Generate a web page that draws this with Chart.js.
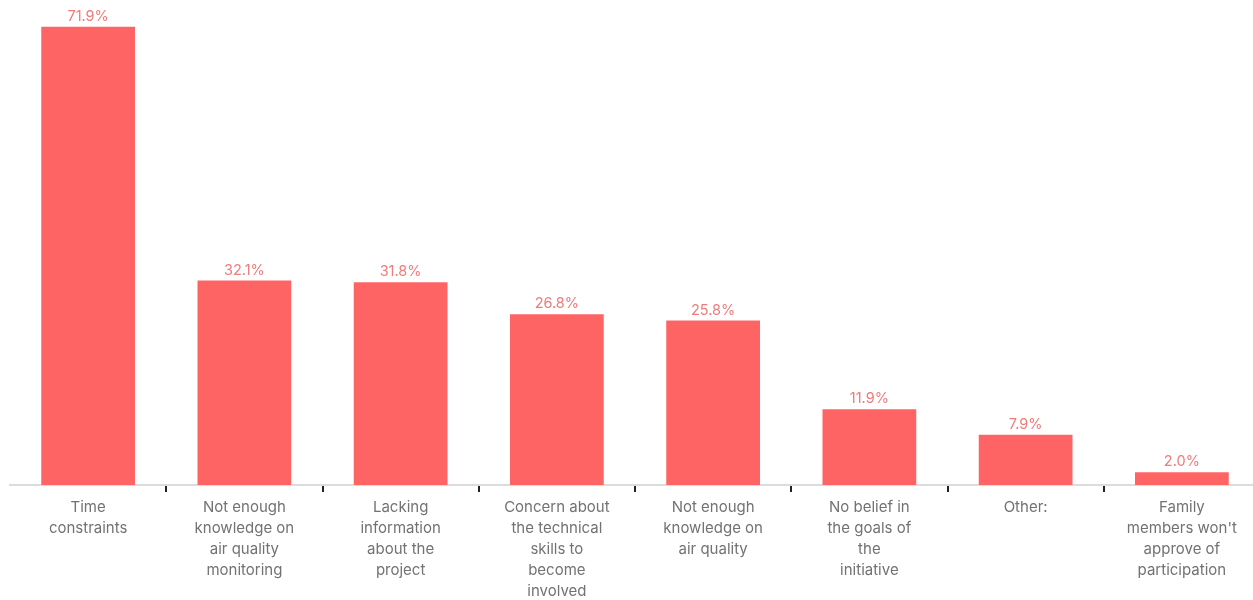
<!DOCTYPE html>
<html>
<head>
<meta charset="utf-8">
<script src="https://cdn.jsdelivr.net/npm/chart.js@4/dist/chart.umd.min.js"></script>
<style>
html,body{margin:0;padding:0;background:#fff;overflow:hidden;}
#wrap{width:1260px;height:600px;position:relative;}
</style>
</head>
<body>
<div id="wrap"><canvas id="c"></canvas></div>
<script>
const categories = [
  ["Time","constraints"],
  ["Not enough","knowledge on","air quality","monitoring"],
  ["Lacking","information","about the","project"],
  ["Concern about","the technical","skills to","become","involved"],
  ["Not enough","knowledge on","air quality"],
  ["No belief in","the goals of","the","initiative"],
  ["Other:"],
  ["Family","members won't","approve of","participation"]
];
const values = [71.9, 32.1, 31.8, 26.8, 25.8, 11.9, 7.9, 2.0];

const valueLabels = {
  id: 'valueLabels',
  afterDatasetsDraw(chart) {
    const ctx = chart.ctx;
    const meta = chart.getDatasetMeta(0);
    ctx.save();
    ctx.font = '14.5px Inter, "Open Sans", sans-serif';
    ctx.fillStyle = '#ef7b7b';
    ctx.textAlign = 'center';
    ctx.textBaseline = 'bottom';
    meta.data.forEach((bar, i) => {
      ctx.fillText(values[i].toFixed(1) + '%', bar.x, bar.y - 3);
    });
    ctx.restore();
  }
};

new Chart(document.getElementById('c'), {
  type: 'bar',
  data: {
    labels: categories,
    datasets: [{
      data: values,
      backgroundColor: '#ff6464',
      borderWidth: 0,
      categoryPercentage: 1,
      barPercentage: 0.6
    }]
  },
  options: {
    responsive: true,
    maintainAspectRatio: false,
    animation: false,
    layout: { padding: { left: 10, right: 0, top: 0, bottom: 0 } },
    plugins: { legend: { display: false }, tooltip: { enabled: false } },
    scales: {
      y: { display: false, min: 0, max: 76.1 },
      x: {
        afterFit(scale) { scale.height = 115; },
        border: { display: true, color: '#dcdcdc', width: 2 },
        grid: {
          offset: true,
          drawOnChartArea: false,
          drawTicks: true,
          tickLength: 7,
          lineWidth: 2,
          color: (c) => (c.index === 0 || c.index === categories.length) ? 'rgba(0,0,0,0)' : '#222'
        },
        ticks: {
          autoSkip: false,
          maxRotation: 0,
          minRotation: 0,
          padding: 5,
          color: '#727272',
          font: { family: 'Inter, "Open Sans", sans-serif', size: 15, lineHeight: 1.4 }
        }
      }
    }
  },
  plugins: [valueLabels]
});
</script>
</body>
</html>
